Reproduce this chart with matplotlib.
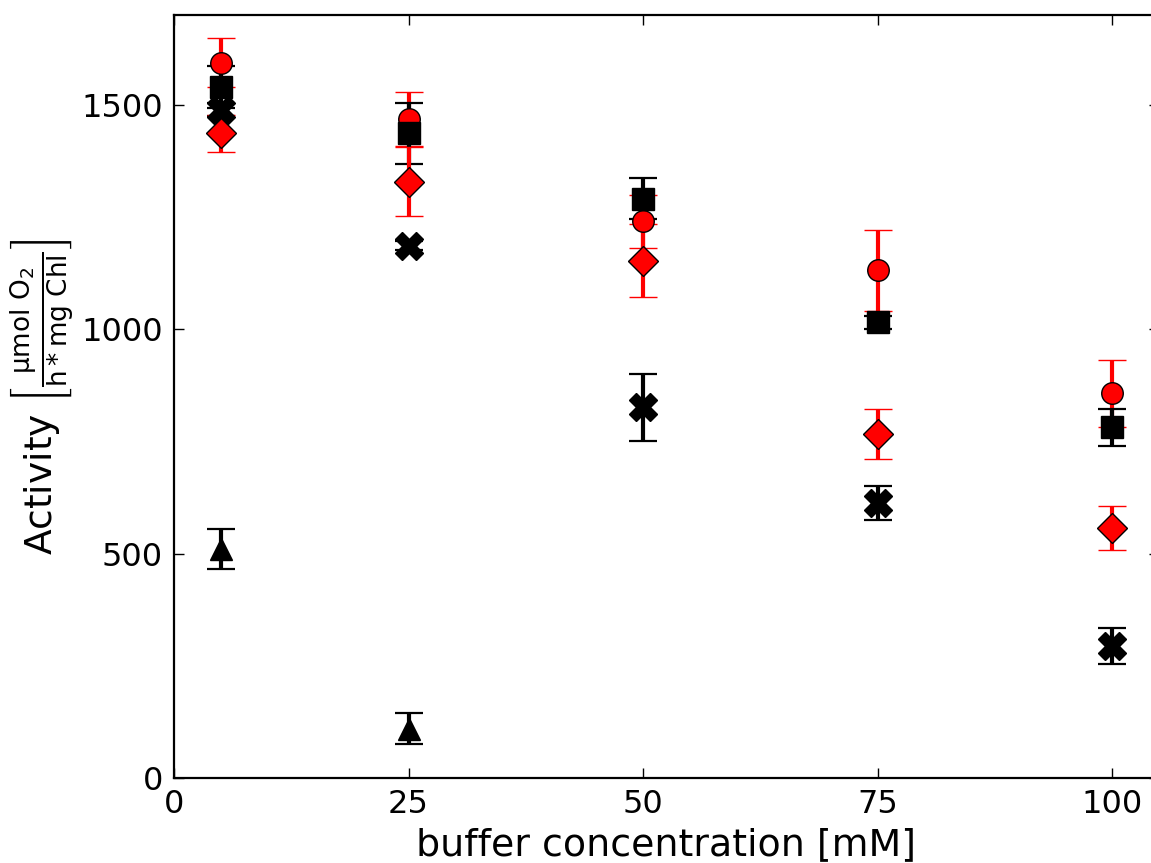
import matplotlib
matplotlib.use("Agg")
import matplotlib.pyplot as plt

x = [5, 25, 50, 75, 100]
x_tri = [5, 25]

circle_y = [1594, 1469, 1240, 1131, 857]
circle_err = [55, 60, 60, 90, 75]

square_y = [1540, 1436, 1291, 1015, 781]
square_err = [47, 69, 45, 15, 41]

cross_y = [1489, 1186, 826, 612, 294]
cross_err = [15, 10, 75, 38, 40]

diamond_y = [1436, 1329, 1153, 766, 556]
diamond_err = [41, 76, 82, 56, 49]

tri_y = [510, 110]
tri_err = [45, 35]

xticks = [0, 25, 50, 75, 100]
yticks = [0, 500, 1000, 1500]

fig = plt.figure(figsize=(11.51, 8.63), dpi=100)
# axes extends slightly beyond the right edge of the figure (cropped)
ax = fig.add_axes([174/1151, 85/863, 985/1151, 763/863])

ms = 15.5
common = dict(linestyle='none', capsize=10, elinewidth=3, capthick=1.6)

ax.errorbar(x, circle_y, yerr=circle_err, fmt='o', color='red', ecolor='red',
            markerfacecolor='red', markeredgecolor='black', markeredgewidth=1,
            markersize=ms, **common)
ax.errorbar(x, square_y, yerr=square_err, fmt='s', color='black', ecolor='black',
            markerfacecolor='black', markeredgecolor='black', markersize=ms, **common)
ax.errorbar(x, cross_y, yerr=cross_err, fmt='X', color='black', ecolor='black',
            markerfacecolor='black', markeredgecolor='black', markersize=20, **common)
ax.errorbar(x, diamond_y, yerr=diamond_err, fmt='D', color='red', ecolor='red',
            markerfacecolor='red', markeredgecolor='black', markeredgewidth=1,
            markersize=ms, **common)
ax.errorbar(x_tri, tri_y, yerr=tri_err, fmt='^', color='black', ecolor='black',
            markerfacecolor='black', markeredgecolor='black', markersize=ms, **common)

ax.set_xlim(0, 105)
ax.set_ylim(0, 1700)
ax.set_xticks(xticks)
ax.set_yticks(yticks)
ax.tick_params(direction='in', length=7, width=1, top=True, right=True,
               labelsize=23, pad=8)
for s in ax.spines.values():
    s.set_linewidth(1.6)
ax.spines['right'].set_visible(False)

ax.set_xlabel('buffer concentration [mM]', fontsize=27.3, labelpad=5)
ax.set_ylabel(r'Activity $\left[\frac{\mathrm{\mu mol\ O_2}}{\mathrm{h*mg\ Chl}}\right]$',
              fontsize=27, labelpad=4)

fig.savefig('out.png', dpi=100)
